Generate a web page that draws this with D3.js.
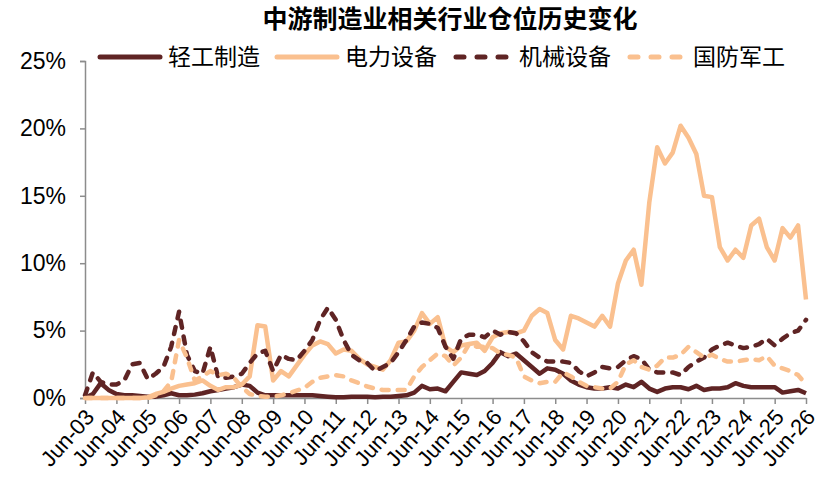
<!DOCTYPE html>
<html>
  <head>
    <meta charset="UTF-8" />
    <script src="https://d3js.org/d3.v7.min.js"></script>
    <style>
      body { margin: 0; background: #fff; }
      text { font-family: "Liberation Sans", Arial, sans-serif; }
      .cjk { font-family: "Noto Sans CJK SC", sans-serif; }
    </style>
  </head>
  <body>
    <div id="chart"></div>

    <script>
      // quarterly observations, Jun-03 .. Jun-26 (93 points), values in %
      var seriesNames = ["轻工制造", "电力设备", "机械设备", "国防军工"];

      var light = [
        0, 0.3, 1.1, 0.6, 0.3, 0.2, 0.2, 0.15, 0.1, 0.1, 0.2, 0.35,
        0.2, 0.2, 0.25, 0.35, 0.5, 0.6, 0.7, 0.8, 1.0, 0.9, 0.4, 0.2,
        0.2, 0.2, 0.2, 0.2, 0.2, 0.2, 0.15, 0.1, 0.05, 0.05, 0.1, 0.1,
        0.1, 0.05, 0.1, 0.1, 0.15, 0.2, 0.4, 0.9, 0.65, 0.7, 0.5, 1.2,
        1.9, 1.8, 1.7, 2.0, 2.6, 3.4, 3.1, 3.3, 2.8, 2.3, 1.8, 2.2,
        2.1, 1.8, 1.3, 1.0, 0.8, 0.7, 0.7, 0.8, 0.7, 1.0, 0.8, 1.2,
        0.7, 0.45, 0.7, 0.8, 0.8, 0.65, 0.9, 0.6, 0.7, 0.7, 0.8, 1.1,
        0.9, 0.8, 0.8, 0.8, 0.8, 0.4, 0.5, 0.6, 0.35
      ];
      var power = [
        0, 0, 0, 0, 0, 0, 0, 0, 0.05, 0.3, 0.45, 0.7,
        0.9, 1.0, 1.1, 1.3, 0.9, 0.6, 0.8, 0.8, 1.0, 1.6, 5.4, 5.3,
        1.3, 2.0, 1.6, 2.4, 3.2, 3.9, 4.2, 4.0, 3.3, 3.6, 3.5, 2.9,
        2.5, 2.3, 2.1, 2.8, 4.1, 4.2, 5.0, 6.3, 5.5, 6.0, 3.8, 3.4,
        3.9, 4.0, 4.1, 3.5, 4.5, 4.8, 4.9, 4.8, 5.0, 6.1, 6.6, 6.3,
        4.3, 3.6, 6.1, 5.9, 5.6, 5.3, 6.1, 5.3, 8.5, 10.2, 11.0, 8.4,
        14.5, 18.6, 17.4, 18.2, 20.2, 19.3, 18.1, 15.0, 14.9, 11.2, 10.2, 11.0,
        10.4, 12.8, 13.3, 11.2, 10.2, 12.6, 11.9, 12.8, 7.3
      ];
      var machinery = [
        0.2, 1.9, 1.2, 1.0, 1.0, 1.3, 2.5, 2.6, 1.4, 1.8, 2.3, 3.8,
        6.4, 3.2, 2.0, 1.8, 3.8, 1.5, 1.5, 1.6, 1.8, 2.6, 3.3, 3.5,
        2.0, 3.2, 2.9, 2.8, 3.5, 4.3, 5.8, 6.7, 5.8, 4.3, 3.2, 2.8,
        2.6, 2.0, 2.3, 2.6, 3.4, 4.3, 5.3, 5.6, 5.5, 5.2, 3.8, 2.9,
        4.4, 4.7, 4.7, 4.5, 5.0, 4.7, 4.9, 4.8, 4.2, 3.4, 3.0, 2.7,
        2.7, 2.7, 2.6, 2.0, 1.6, 1.9, 2.3, 2.2, 2.3, 2.8, 3.1, 2.9,
        2.1, 1.9, 1.9, 1.9, 1.7, 2.3, 2.7, 3.0, 3.6, 3.9, 4.1, 3.9,
        3.7, 3.8, 4.0, 4.4, 3.9, 4.4, 4.8, 5.0, 5.8
      ];
      var defense = [
        0, 0, 0, 0, 0, 0, 0, 0, 0, 0.2, 0.5, 1.2,
        4.3, 3.0, 1.3, 1.6, 2.0, 1.7, 1.8, 1.5, 0.8, 0.3, 0.15, 0.1,
        0.1, 0.2, 0.35, 0.55, 0.75, 1.2, 1.5, 1.6, 1.7, 1.6, 1.3, 1.1,
        0.85, 0.7, 0.6, 0.6, 0.6, 0.6, 1.6, 2.3, 2.8, 3.3, 3.1, 2.4,
        3.0, 4.0, 3.8, 3.8, 3.7, 3.3, 3.2, 3.0, 1.6, 1.3, 1.1, 1.2,
        1.2, 1.9, 1.6, 1.2, 0.9, 0.8, 0.7, 0.7, 1.2, 2.5, 2.8, 2.3,
        2.1, 2.4, 3.0, 3.0, 3.2, 3.8, 3.4, 3.0, 3.2, 2.9, 2.7, 2.7,
        2.8, 2.9, 2.8, 3.1, 2.4, 2.2, 2.0, 1.7, 1.0
      ];
      var yTicks = [0, 5, 10, 15, 20, 25];
      var tickYears = d3.range(2003, 2027);

      var width = 835,
        height = 494;
      var dark = "#5f2424",
        tan = "#fac08f",
        axisColor = "#8c8c8c";

      var start = new Date(2003, 5, 1);
      var dates = light.map(function (d, i) {
        return d3.timeMonth.offset(start, 3 * i);
      });

      var svg = d3
        .select("#chart")
        .append("svg")
        .attr("width", width)
        .attr("height", height);

      var x = d3
        .scaleTime()
        .domain([start, new Date(2026, 5, 1)])
        .range([85, 806]);
      var y = d3.scaleLinear().domain([0, 25]).range([398, 61]);

      // y axis
      var yAxis = svg
        .append("g")
        .attr("transform", "translate(85,0)")
        .call(
          d3
            .axisLeft(y)
            .tickValues(yTicks)
            .tickSize(5)
            .tickPadding(14)
            .tickFormat(function (d) {
              return d + "%";
            })
        );
      yAxis.select(".domain").attr("stroke", axisColor).attr("stroke-width", 1.5);
      yAxis.selectAll(".tick line").attr("stroke", axisColor).attr("stroke-width", 1.5);
      yAxis
        .selectAll(".tick text")
        .attr("fill", "#000")
        .style("font-size", "23px")
        .style("font-family", "'Liberation Sans', Arial, sans-serif");

      // x axis
      var xAxis = svg
        .append("g")
        .attr("transform", "translate(0,398)")
        .call(
          d3
            .axisBottom(x)
            .tickValues(
              tickYears.map(function (yr) {
                return new Date(yr, 5, 1);
              })
            )
            .tickSize(6)
            .tickSizeOuter(0)
            .tickFormat(d3.timeFormat("%b-%y"))
        );
      xAxis.select(".domain").attr("stroke", axisColor).attr("stroke-width", 1.5);
      xAxis.selectAll(".tick line").attr("stroke", axisColor).attr("stroke-width", 1.5);
      xAxis
        .selectAll(".tick text")
        .attr("fill", "#000")
        .attr("y", 0)
        .attr("dy", 0)
        .attr("text-anchor", "end")
        .attr("transform", "translate(10,20) rotate(-48)")
        .style("font-size", "22px")
        .style("font-family", "'Liberation Sans', Arial, sans-serif");

      // lines
      var series = [
        { name: seriesNames[0], values: light, color: dark, dash: null },
        { name: seriesNames[1], values: power, color: tan, dash: null },
        { name: seriesNames[2], values: machinery, color: dark, dash: "7,9" },
        { name: seriesNames[3], values: defense, color: tan, dash: "7,9" },
      ];

      var line = d3
        .line()
        .x(function (d, i) {
          return x(dates[i]);
        })
        .y(function (d) {
          return y(d);
        });

      svg
        .append("g")
        .selectAll("path")
        .data(series)
        .enter()
        .append("path")
        .attr("d", function (s) {
          return line(s.values);
        })
        .attr("fill", "none")
        .attr("stroke", function (s) {
          return s.color;
        })
        .attr("stroke-width", 4.5)
        .attr("stroke-linejoin", "round")
        .attr("stroke-linecap", function (s) {
          return s.dash ? "round" : "butt";
        })
        .attr("stroke-dasharray", function (s) {
          return s.dash;
        });

      // title
      svg
        .append("text")
        .attr("class", "cjk")
        .attr("x", 450)
        .attr("y", 28)
        .attr("text-anchor", "middle")
        .style("font-size", "25px")
        .style("font-weight", "bold")
        .text("中游制造业相关行业仓位历史变化");

      // legend
      var legendX = [100, 277, 453, 627];
      var legend = svg
        .append("g")
        .selectAll("g")
        .data(series)
        .enter()
        .append("g")
        .attr("transform", function (s, i) {
          return "translate(" + legendX[i] + ",57)";
        });
      legend
        .append("line")
        .attr("x1", 0)
        .attr("x2", 60)
        .attr("stroke", function (s) {
          return s.color;
        })
        .attr("stroke-width", 5)
        .attr("stroke-linecap", "round")
        .attr("stroke-dasharray", function (s) {
          return s.dash ? "8,13" : null;
        })
        .attr("x1", function (s) {
          return s.dash ? 3 : 0;
        });
      legend
        .append("text")
        .attr("class", "cjk")
        .attr("x", function (s) {
          return s.dash ? 66 : 68;
        })
        .attr("y", 8)
        .style("font-size", "23px")
        .text(function (s) {
          return s.name;
        });
    </script>
  </body>
</html>
